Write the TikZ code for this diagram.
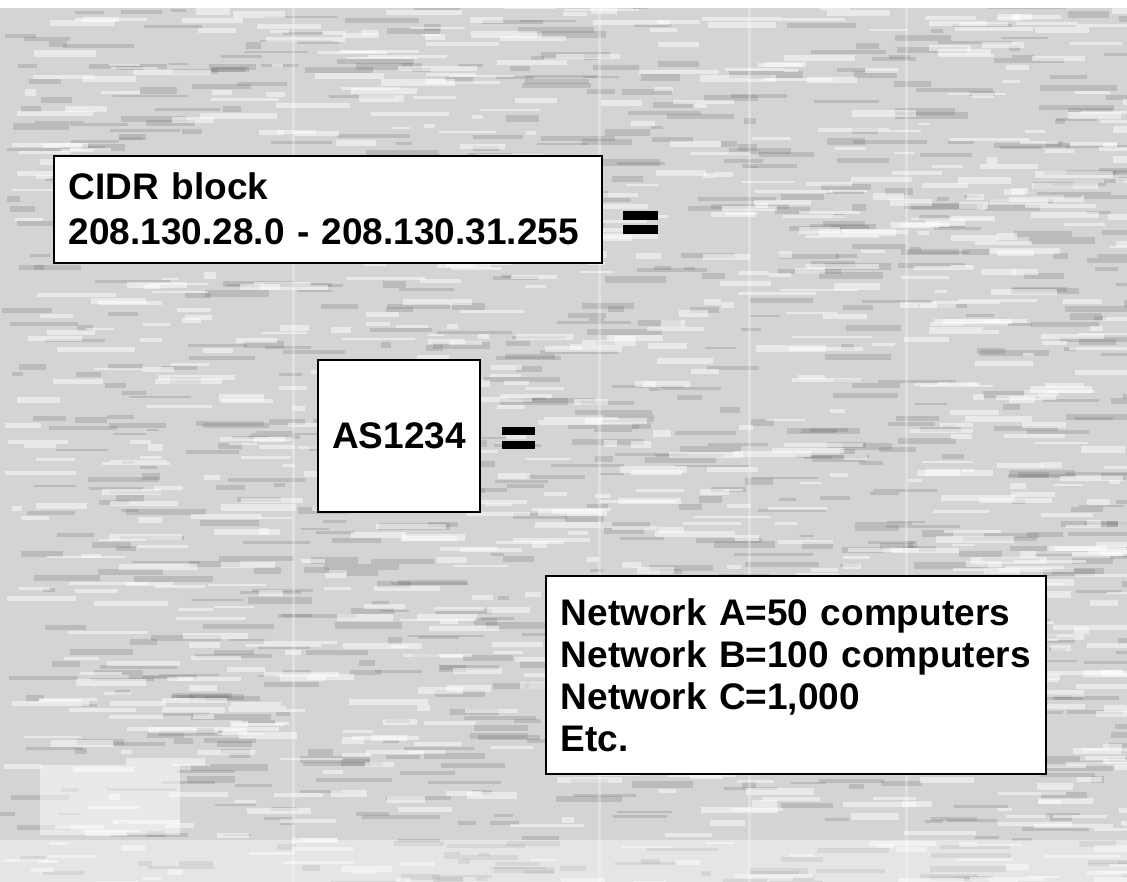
\documentclass[tikz,border=0pt]{standalone}
\usepackage{fontspec}
\setmainfont{Liberation Sans}
\usepackage{tikz}
\tikzset{
  infobox/.style = {draw=black,line width=1.6pt,fill=white,
                    font=\bfseries\fontsize{37}{45}\selectfont,
                    inner sep=0pt},
  streak/.style  = {fill=black!60,opacity=0.22},
  gleam/.style   = {fill=white,opacity=0.5}
}
\newcommand{\eqbars}[4]{%
  \fill[black] (#1,#2) rectangle ++(#3,#4);
  \fill[black] (#1,#2+14) rectangle ++(#3,#4);
}
\begin{document}
\begin{tikzpicture}[x=1pt,y=-1pt]
  \useasboundingbox (0,0) rectangle (1127,882);
  % scanned paper texture
  \fill[black!17] (0,0) rectangle (1127,882);
  \pgfmathsetseed{4711}
  \foreach \k in {1,...,900}{
    \pgfmathsetmacro{\px}{rnd*1127}
    \pgfmathsetmacro{\py}{rnd*882}
    \pgfmathsetmacro{\pw}{10+rnd*70}
    \pgfmathsetmacro{\ph}{2+rnd*5}
    \fill[streak] (\px,\py) rectangle ++(\pw,\ph);
  }
  \foreach \k in {1,...,900}{
    \pgfmathsetmacro{\px}{rnd*1127}
    \pgfmathsetmacro{\py}{rnd*882}
    \pgfmathsetmacro{\pw}{10+rnd*70}
    \pgfmathsetmacro{\ph}{2+rnd*5}
    \fill[gleam] (\px,\py) rectangle ++(\pw,\ph);
  }
  \foreach \vx in {292,598,748,905}
    \fill[white,opacity=0.3] (\vx,0) rectangle ++(3,882);
  \fill[white,opacity=0.4] (0,840) rectangle (1127,882);
  \fill[white] (0,0) rectangle (1127,8);
  \fill[white,opacity=0.5] (40,765) rectangle (180,835);

  \node[infobox,anchor=north west,text width=518pt,inner xsep=15pt,
        minimum width=548pt,minimum height=107pt,align=left]
    (cidr) at (53,155) {CIDR block\\208.130.28.0 - 208.130.31.255};
  \node[infobox,minimum width=162pt,minimum height=152pt]
    (as) at (399,436) {AS1234};
  \node[infobox,anchor=north west,text width=470pt,inner xsep=15pt,
        minimum width=500pt,minimum height=198pt,align=left,
        font=\bfseries\fontsize{37}{42}\selectfont]
    (nets) at (545,575) {Network A=50 computers\\Network B=100 computers\\
      Network C=1,000\\Etc.};

  \eqbars{623}{211}{35}{9.5}
  \eqbars{502}{427}{33}{8}
\end{tikzpicture}
\end{document}
